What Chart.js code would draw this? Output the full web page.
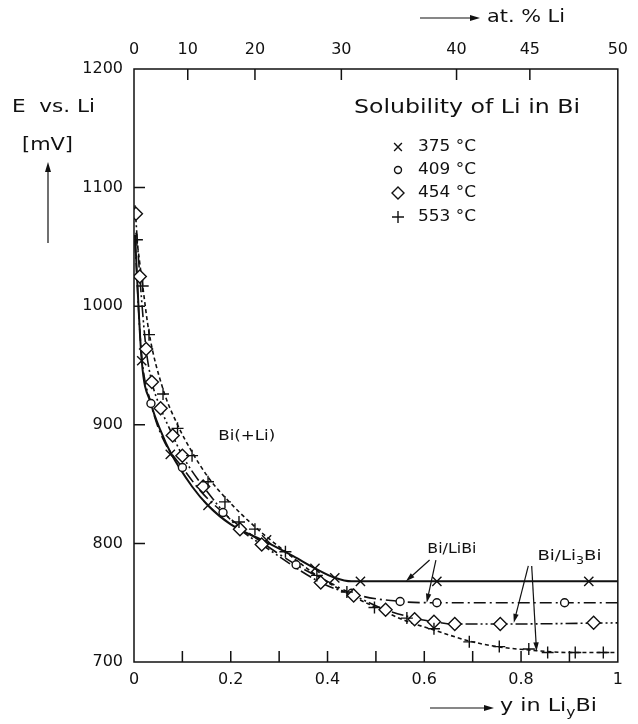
<!DOCTYPE html>
<html><head><meta charset="utf-8">
<script src="https://cdn.jsdelivr.net/npm/chart.js@4.4.0/dist/chart.umd.min.js"></script>
<style>html,body{margin:0;padding:0;background:#fff;}#wrap{width:638px;height:724px;position:relative}</style>
</head><body><div id="wrap"><canvas id="c" width="638" height="724"></canvas></div>
<script>
// ---- data ----
const yTicksMv = [700, 800, 900, 1000, 1100, 1200];
const xTicksY = [0, 0.1, 0.2, 0.3, 0.4, 0.5, 0.6, 0.7, 0.8, 0.9, 1];
const atPctTicks = [0, 10, 20, 30, 40, 45, 50];
const seriesLabels = ['375 °C', '409 °C', '454 °C', '553 °C'];

// measured points (markers)
const y375 = [0.016, 0.075, 0.153, 0.274, 0.374, 0.415, 0.468, 0.626, 0.94];
const e375 = [954, 875, 832, 803, 779, 771, 768, 768, 768];

const y409 = [0.035, 0.10, 0.184, 0.335, 0.45, 0.55, 0.626, 0.89];
const e409 = [918, 864, 826, 782, 758, 751, 750, 750];

const y454 = [0.004, 0.012, 0.025, 0.037, 0.055, 0.08, 0.10, 0.143, 0.219, 0.264, 0.386, 0.454, 0.52, 0.58, 0.62, 0.663, 0.757, 0.95];
const e454 = [1078, 1025, 964, 936, 914, 891, 874, 848, 812, 799, 767, 756, 744, 736, 734, 732, 732, 733];

const y553 = [0.006, 0.018, 0.031, 0.06, 0.09, 0.12, 0.153, 0.188, 0.217, 0.25, 0.313, 0.378, 0.44, 0.497, 0.564, 0.62, 0.693, 0.755, 0.816, 0.855, 0.912, 0.97];
const e553 = [1056, 1017, 976, 926, 897, 874, 852, 835, 818, 812, 793, 773, 759, 746, 737, 728, 717, 713, 711, 708, 708, 708];

// drawn curves (nodes)
const cy375 = [0.002, 0.016, 0.035, 0.055, 0.075, 0.12, 0.153, 0.2, 0.274, 0.33, 0.374, 0.415, 0.45, 1.0];
const ce375 = [1060, 954, 918, 895, 877, 848, 832, 816, 801, 789, 779, 771, 768, 768];

const cy409 = [0.002, 0.015, 0.035, 0.06, 0.10, 0.14, 0.184, 0.25, 0.335, 0.40, 0.45, 0.55, 0.626, 1.0];
const ce409 = [1055, 962, 918, 888, 864, 843, 826, 805, 782, 768, 758, 751, 750, 750];

const cy454 = [0.002, 0.012, 0.025, 0.037, 0.055, 0.08, 0.10, 0.143, 0.219, 0.264, 0.386, 0.454, 0.52, 0.58, 0.62, 0.663, 0.757, 1.0];
const ce454 = [1085, 1025, 964, 936, 914, 891, 874, 848, 812, 799, 767, 756, 744, 737, 734, 732, 732, 733];

const cy553 = [0.004, 0.018, 0.031, 0.06, 0.09, 0.12, 0.153, 0.19, 0.25, 0.313, 0.378, 0.44, 0.5, 0.56, 0.62, 0.69, 0.75, 0.82, 0.9, 1.0];
const ce553 = [1062, 1017, 978, 930, 900, 877, 856, 838, 814, 793, 773, 758, 746, 735, 727, 718, 713, 710, 708, 708];

// ---- build datasets ----
const FONT = "'DejaVu Sans', sans-serif";
const styles = [
  {pt: 'crossRot', r: 6.5, dash: [], w: 2},
  {pt: 'circle', r: 4, dash: [12, 4, 2, 4], w: 1.6},
  {pt: 'rectRot', r: 6.5, dash: [12, 3, 2, 3, 2, 3], w: 1.6},
  {pt: 'cross', r: 6, dash: [4, 3], w: 1.6}
];
const mX = [y375, y409, y454, y553], mE = [e375, e409, e454, e553];
const cX = [cy375, cy409, cy454, cy553], cE = [ce375, ce409, ce454, ce553];
const datasets = [];
cX.forEach((xa, k) => {
  datasets.push({
    label: seriesLabels[k] + ' curve',
    data: xa.map((x, i) => ({x: x, y: cE[k][i]})),
    showLine: true, pointRadius: 0,
    borderColor: '#111', borderWidth: styles[k].w, borderDash: styles[k].dash,
    cubicInterpolationMode: 'monotone', order: 10 - k
  });
});
mX.forEach((xa, k) => {
  datasets.push({
    label: seriesLabels[k],
    data: xa.map((x, i) => ({x: x, y: mE[k][i]})),
    showLine: false,
    pointStyle: styles[k].pt, pointRadius: styles[k].r,
    pointBorderColor: '#111', pointBackgroundColor: '#fff', pointBorderWidth: 1.4,
    order: 4 - k
  });
});

function drawMarker(ctx, style, x, y, r) {
  ctx.save();
  ctx.strokeStyle = '#111'; ctx.fillStyle = '#fff'; ctx.lineWidth = 1.4; ctx.setLineDash([]);
  ctx.beginPath();
  if (style === 'crossRot') {
    const d = r * 0.707;
    ctx.moveTo(x - d, y - d); ctx.lineTo(x + d, y + d);
    ctx.moveTo(x + d, y - d); ctx.lineTo(x - d, y + d); ctx.stroke();
  } else if (style === 'circle') {
    ctx.arc(x, y, r, 0, Math.PI * 2); ctx.fill(); ctx.stroke();
  } else if (style === 'rectRot') {
    ctx.moveTo(x, y - r); ctx.lineTo(x + r, y); ctx.lineTo(x, y + r); ctx.lineTo(x - r, y); ctx.closePath();
    ctx.fill(); ctx.stroke();
  } else {
    ctx.moveTo(x - r, y); ctx.lineTo(x + r, y); ctx.moveTo(x, y - r); ctx.lineTo(x, y + r); ctx.stroke();
  }
  ctx.restore();
}

// draws text made of parts (with subscripts); optional target width stretches it horizontally
function drawRich(ctx, parts, x, y, size, align, width) {
  ctx.save();
  ctx.textBaseline = 'middle'; ctx.textAlign = 'left'; ctx.fillStyle = '#111';
  let total = 0;
  parts.forEach(p => { ctx.font = (p.sub ? size * 0.7 : size) + 'px ' + FONT; total += ctx.measureText(p.t).width; });
  const sc = width ? width / total : 1;
  const w = total * sc;
  let left = align === 'center' ? x - w / 2 : (align === 'right' ? x - w : x);
  ctx.translate(left, y); ctx.scale(sc, 1);
  let cx = 0;
  parts.forEach(p => {
    ctx.font = (p.sub ? size * 0.7 : size) + 'px ' + FONT;
    ctx.fillText(p.t, cx, p.sub ? size * 0.35 : 0);
    cx += ctx.measureText(p.t).width;
  });
  ctx.restore();
}

function arrow(ctx, x1, y1, x2, y2, head) {
  const a = Math.atan2(y2 - y1, x2 - x1);
  ctx.save(); ctx.strokeStyle = '#111'; ctx.fillStyle = '#111'; ctx.lineWidth = 1.2; ctx.setLineDash([]);
  ctx.beginPath(); ctx.moveTo(x1, y1); ctx.lineTo(x2 - Math.cos(a) * head * 0.8, y2 - Math.sin(a) * head * 0.8); ctx.stroke();
  ctx.beginPath(); ctx.moveTo(x2, y2);
  ctx.lineTo(x2 - Math.cos(a) * head + Math.sin(a) * head * 0.3, y2 - Math.sin(a) * head - Math.cos(a) * head * 0.3);
  ctx.lineTo(x2 - Math.cos(a) * head - Math.sin(a) * head * 0.3, y2 - Math.sin(a) * head + Math.cos(a) * head * 0.3);
  ctx.closePath(); ctx.fill();
  ctx.restore();
}

const framePlugin = {
  id: 'frame',
  afterDatasetsDraw(chart) {
    const ctx = chart.ctx, a = chart.chartArea;
    const sx = chart.scales.x, sy = chart.scales.y, st = chart.scales.x2;
    ctx.save();
    ctx.strokeStyle = '#111'; ctx.lineWidth = 1.5; ctx.setLineDash([]);
    ctx.strokeRect(a.left, a.top, a.right - a.left, a.bottom - a.top);
    ctx.beginPath();
    xTicksY.slice(1, -1).forEach(v => { const p = sx.getPixelForValue(v); ctx.moveTo(p, a.bottom); ctx.lineTo(p, a.bottom - 11); });
    yTicksMv.slice(1, -1).forEach(v => { const p = sy.getPixelForValue(v); ctx.moveTo(a.left, p); ctx.lineTo(a.left + 11, p); });
    atPctTicks.slice(1, -1).forEach(v => { const p = st.getPixelForValue(v / (100 - v)); ctx.moveTo(p, a.top); ctx.lineTo(p, a.top + 11); });
    ctx.stroke();
    ctx.restore();

    const X = v => sx.getPixelForValue(v), Y = v => sy.getPixelForValue(v);
    // annotations
    drawRich(ctx, [{t: 'Bi(+Li)'}], X(0.233), Y(890), 14, 'center', 57);
    drawRich(ctx, [{t: 'Bi/LiBi'}], X(0.657), Y(795), 14, 'center', 49);
    drawRich(ctx, [{t: 'Bi/Li'}, {t: '3', sub: true}, {t: 'Bi'}], X(0.9), Y(789), 14, 'center', 64);
    arrow(ctx, X(0.611), Y(786), X(0.562), Y(768), 9);
    arrow(ctx, X(0.624), Y(786), X(0.605), Y(750), 9);
    arrow(ctx, X(0.815), Y(781), X(0.785), Y(733), 9);
    arrow(ctx, X(0.822), Y(781), X(0.832), Y(709), 9);

    // legend
    drawRich(ctx, [{t: 'Solubility of Li in Bi'}], 354, 108, 19, 'left', 226);
    const rows = [147, 170, 193, 217];
    seriesLabels.forEach((lab, k) => {
      drawMarker(ctx, styles[k].pt, 398, rows[k], k === 0 ? 5.5 : (k === 1 ? 3.5 : 6));
      drawRich(ctx, [{t: lab}], 418, rows[k], 15.5, 'left', 58);
    });

    // axis titles
    drawRich(ctx, [{t: 'E  vs. Li'}], 12, 107, 18.5, 'left', 83);
    drawRich(ctx, [{t: '[mV]'}], 22, 145, 18.5, 'left', 51);
    arrow(ctx, 48, 243, 48, 162, 10);
    arrow(ctx, 430, 708, 494, 708, 10);
    drawRich(ctx, [{t: 'y in Li'}, {t: 'y', sub: true}, {t: 'Bi'}], 500, 706, 18, 'left', 97);
    arrow(ctx, 420, 18, 480, 18, 10);
    drawRich(ctx, [{t: 'at. % Li'}], 487, 17, 18, 'left', 78);
  }
};

Chart.defaults.font.family = FONT;
Chart.defaults.color = '#111';

new Chart(document.getElementById('c'), {
  type: 'scatter',
  data: {datasets: datasets},
  options: {
    responsive: false, devicePixelRatio: 1, animation: false,
    layout: {padding: {left: 0, right: 15, top: 0, bottom: 0}},
    plugins: {legend: {display: false}, tooltip: {enabled: false}},
    scales: {
      x: {
        type: 'linear', position: 'bottom', min: 0, max: 1,
        afterFit: s => { s.height = 62; },
        afterBuildTicks: s => { s.ticks = xTicksY.map(v => ({value: v})); },
        grid: {display: false, drawTicks: false}, border: {display: false},
        ticks: {padding: 8, font: {size: 16}, maxRotation: 0, autoSkip: false,
          callback: v => { const t = Math.round(v * 10); if (t % 2) return ''; return t === 0 ? '0' : (t === 10 ? '1' : (t / 10).toFixed(1)); }}
      },
      x2: {
        type: 'linear', position: 'top', min: 0, max: 1,
        afterFit: s => { s.height = 69; },
        afterBuildTicks: s => { s.ticks = atPctTicks.map(p => ({value: p / (100 - p)})); },
        grid: {display: false, drawTicks: false}, border: {display: false},
        ticks: {padding: 10, font: {size: 16}, maxRotation: 0, autoSkip: false,
          callback: v => String(Math.round(100 * v / (1 + v)))}
      },
      y: {
        type: 'linear', position: 'left', min: 700, max: 1200,
        afterFit: s => { s.width = 134; },
        afterBuildTicks: s => { s.ticks = yTicksMv.map(v => ({value: v})); },
        grid: {display: false, drawTicks: false}, border: {display: false},
        ticks: {padding: 11, font: {size: 16}, callback: v => String(v)}
      }
    }
  },
  plugins: [framePlugin]
});
</script></body></html>
